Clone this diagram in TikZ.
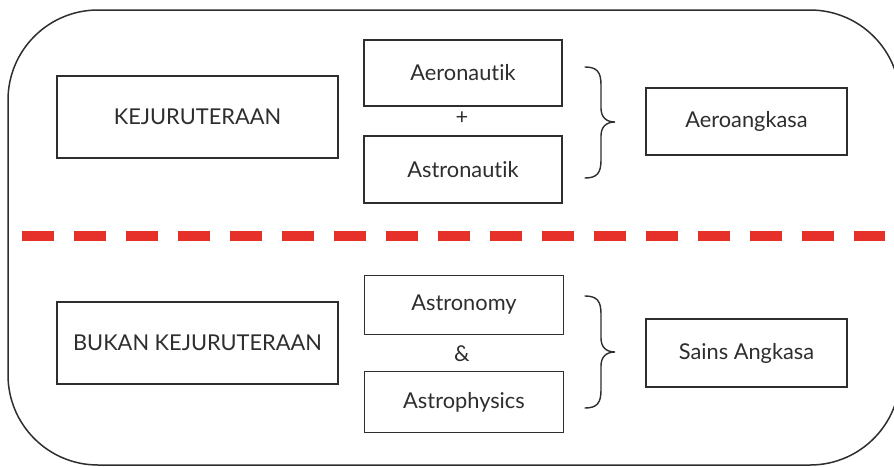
\documentclass[tikz,border=0pt]{standalone}
\usepackage{fontspec}
\setmainfont{Lato}[Ligatures=NoCommon]
\definecolor{ink}{HTML}{2E2E2E}
\definecolor{divider}{HTML}{E5312A}
\begin{document}
\begin{tikzpicture}[x=1pt,y=-1pt,
  box/.style={draw=ink,line width=1.5pt,fill=white,inner sep=0pt,
    font=\fontsize{21.8}{26}\selectfont,text=ink},
  joiner/.style={font=\fontsize{21.8}{26}\selectfont,text=ink,inner sep=0pt},
  curly/.style={draw=ink,line width=1.4pt,line cap=round}]
\useasboundingbox (0,0) rectangle (894,466);
% outer frame, running slightly past the right and bottom edges
\draw[ink,line width=1.5pt,rounded corners=90pt] (8,10) rectangle (900,465);
% divider between the two groups
\draw[divider,line width=10pt,dash pattern=on 31.5pt off 20.5pt] (22,236) -- (885,236);

% engineering group
\node[box,minimum width=281pt,minimum height=82pt] (kej) at (197.5,117) {KEJURUTERAAN};
\node[box,minimum width=198pt,minimum height=66pt] (aero) at (463,73) {Aeronautik};
\node[joiner] (plus) at (462,118) {+};
\node[box,minimum width=198pt,minimum height=67pt] (astro) at (463,169.5) {Astronautik};
\node[box,minimum width=201pt,minimum height=67pt] (aeroa) at (746.5,121.5) {Aeroangkasa};

% non-engineering group
\node[box,minimum width=281pt,minimum height=82pt] (bukan) at (197.5,343) {BUKAN KEJURUTERAAN};
\node[box,minimum width=199pt,minimum height=59pt] (astrn) at (464,305) {Astronomy};
\node[joiner] (amp) at (462,354) {\&};
\node[box,minimum width=199pt,minimum height=61pt] (astph) at (464,402) {Astrophysics};
\node[box,minimum width=201pt,minimum height=68pt] (sains) at (746.5,353) {Sains Angkasa};

% curly braces gathering each pair
\draw[curly] (585,67) .. controls (597,67) and (601,72) .. (601,85)
  -- (601,108) .. controls (601,117) and (606,122) .. (615,122)
  .. controls (606,122) and (601,127) .. (601,136)
  -- (601,160) .. controls (601,173) and (597,178) .. (585,178);
\draw[curly] (585,296) .. controls (597,296) and (601,301) .. (601,314)
  -- (601,338) .. controls (601,347) and (606,352) .. (615,352)
  .. controls (606,352) and (601,357) .. (601,366)
  -- (601,390) .. controls (601,403) and (597,408) .. (585,408);
\end{tikzpicture}
\end{document}
